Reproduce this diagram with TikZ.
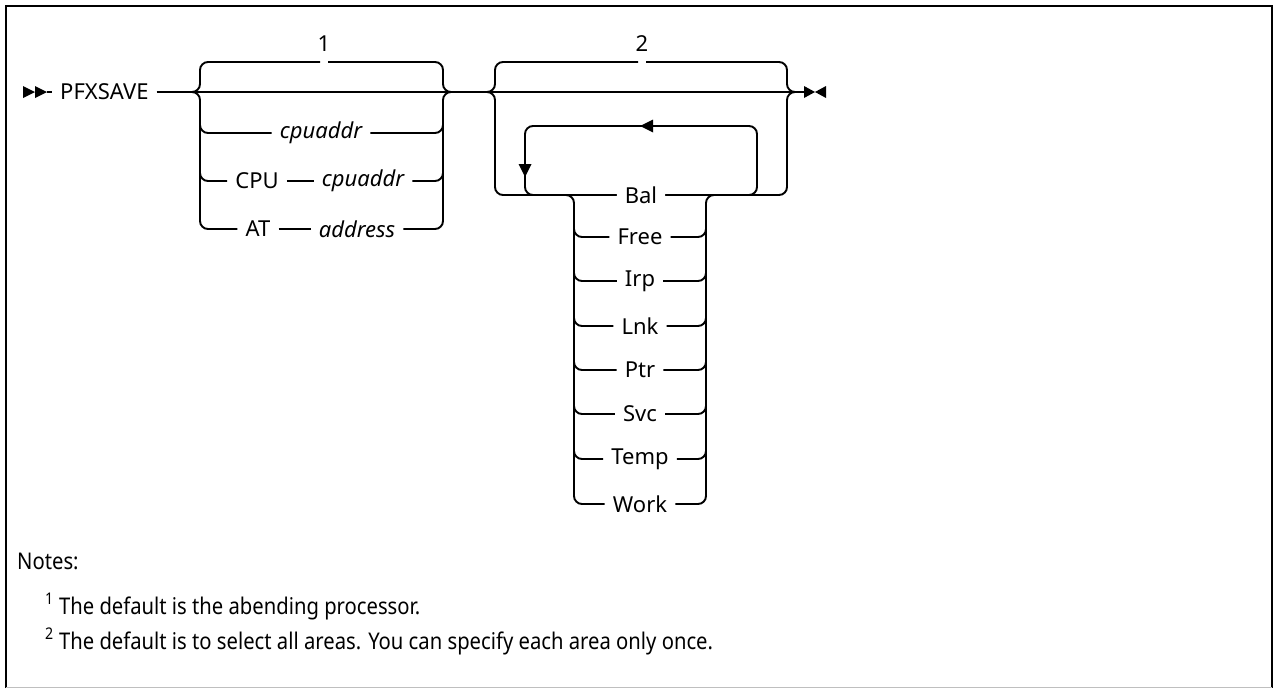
\documentclass[tikz,border=0pt]{standalone}
\usepackage{fontspec}
\setmainfont{Noto Sans}
\newfontfamily\notefont[FakeStretch=0.88]{Noto Sans}
\begin{document}
\begin{tikzpicture}[x=1pt,y=-1pt,
  rr/.style={line width=1.9pt, rounded corners=8pt},
  kw/.style={font=\fontsize{22}{26}\selectfont, inner xsep=8pt, inner ysep=2pt},
  var/.style={kw, font=\fontsize{22}{26}\selectfont\itshape},
  num/.style={font=\fontsize{22}{26}\selectfont, inner sep=0pt},
  note/.style={font=\notefont\fontsize{23}{27}\selectfont, anchor=base west, inner sep=0pt},
  tip/.style={fill=black}]
\useasboundingbox (0,0) rectangle (1274,688);
% frame
\draw[line width=2.5pt] (6,688) -- (6,6) -- (1272,6) -- (1272,688);
\draw[gray!50, line width=1pt] (6,687.5) -- (1272,687.5);

% start
\coordinate (st) at (47,92);
\fill[tip] (23,86) -- (35,92) -- (23,98) -- cycle;
\fill[tip] (35,86) -- (47,92) -- (35,98) -- cycle;
\node[kw, anchor=west, inner xsep=8pt] (cmd) at (52,92) {PFXSAVE};
\draw[rr] (st) -- (cmd.west);

% end
\coordinate (en) at (805,92);
\fill[tip] (804,86) -- (815,92) -- (804,98) -- cycle;
\fill[tip] (826,86) -- (815,92) -- (826,98) -- cycle;

% main line
\draw[rr] (cmd.east) -- (en);

% ---------- group 1 ----------
\node[num, anchor=south] (n1) at (324,52) {1};
\draw[rr] (190,92) -| (200,62) -- (320,62);
\draw[rr] (328,62) -- (443,62) |- (453,92);

\node[var] (ca) at (321,133) {cpuaddr};
\node[kw] (cpu) at (257,181) {CPU};
\node[var] (cb) at (363,181) {cpuaddr};
\node[kw] (at) at (258,229) {AT};
\node[var] (ad) at (357,229) {address};

\draw[rr] (200,100) |- (ca.west);
\draw[rr] (ca.east) -| (443,100);
\draw[rr] (200,140) |- (cpu.west);
\draw[rr] (cpu.east) -- (cb.west);
\draw[rr] (cb.east) -| (443,140);
\draw[rr] (190,92) -| (200,229) -- (at.west);
\draw[rr] (at.east) -- (ad.west);
\draw[rr] (ad.east) -| (443,92) -- (453,92);

% ---------- group 2 ----------
\node[num, anchor=south] (n2) at (642,52) {2};
\draw[rr] (485,92) -| (495,62) -- (638,62);
\draw[rr] (646,62) -- (787,62) |- (797,92);

\node[kw] (bal) at (641,195) {Bal};
\draw[rr] (485,92) -| (495,195) -- (bal.west);
\draw[rr] (bal.east) -| (787,92) -- (797,92);
% repeat loop
\draw[rr] (bal.east) -| (757,126) -- (525,126) |- (bal.west);
\fill[tip] (640,126) -- (653,119.5) -- (653,132.5) -- cycle;
\fill[tip] (525,177) -- (518.5,164) -- (531.5,164) -- cycle;

% choice stack
\node[kw] (free) at (640,237) {Free};
\node[kw] (irp)  at (640,281) {Irp};
\node[kw] (lnk)  at (640,326) {Lnk};
\node[kw] (ptr)  at (640,370) {Ptr};
\node[kw] (svc)  at (640,414) {Svc};
\node[kw] (temp) at (640,459) {Temp};
\node[kw] (work) at (640,504) {Work};

\foreach \n in {free,irp,lnk,ptr,svc,temp}{
  \draw[rr] (574,205) |- (\n.west);
  \draw[rr] (\n.east) -| (706,205);
}
\draw[rr] (566,195) -| (574,504) -- (work.west);
\draw[rr] (work.east) -| (706,195) -- (714,195);

% ---------- notes ----------
\node[note] (notes) at (17,569) {Notes:};
\node[note] (note1) at (45,614) {\textsuperscript{1} The default is the abending processor.};
\node[note] (note2) at (45,649) {\textsuperscript{2} The default is to select all areas. You can specify each area only once.};
\end{tikzpicture}
\end{document}
